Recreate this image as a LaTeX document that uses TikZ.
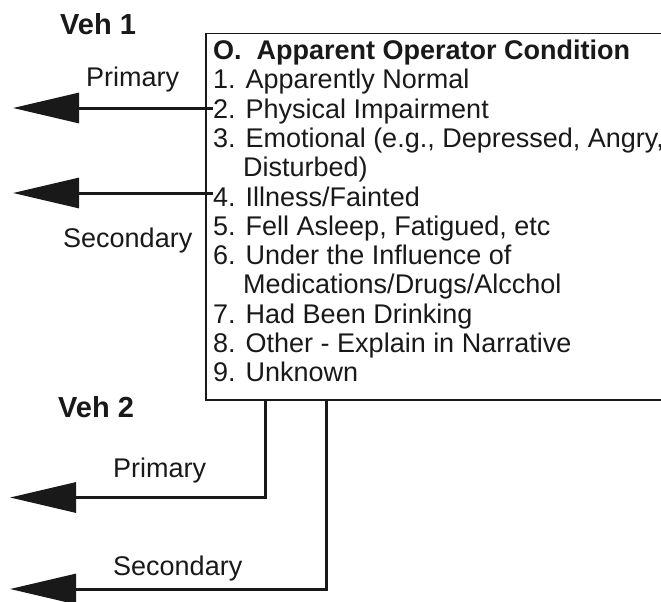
\documentclass[tikz,border=0pt]{standalone}
\usepackage{fontspec}
\setmainfont{Liberation Sans}
\usetikzlibrary{arrows.meta}
\definecolor{inkblack}{RGB}{25,25,25}

\begin{document}
\begin{tikzpicture}[x=1pt, y=-1pt,
    item/.style={anchor=base west, inner sep=0pt, text=inkblack, font=\fontsize{27}{29}\selectfont},
    vehlabel/.style={anchor=base west, inner sep=0pt, text=inkblack, font=\fontsize{29}{31}\selectfont\bfseries},
    bigarrow/.style={-{Triangle[length=66pt, width=30pt]}, line width=3pt, draw=inkblack}]
    \useasboundingbox (0,0) rectangle (661,602);
    \clip (0,0) rectangle (661,602);
    \node[draw=inkblack, line width=1.5pt, anchor=north west, minimum width=490pt, minimum height=366pt, inner sep=0pt] (box) at (205,33) {};
    \node[item] (title) at (213,59.5) {\bfseries O.\ \ Apparent Operator Condition};
    \node[item] (line1) at (213,88.8) {1. Apparently Normal};
    \node[item] (line2) at (213,118.1) {2. Physical Impairment};
    \node[item] (line3) at (213,147.4) {3. Emotional (e.g., Depressed, Angry,};
    \node[item] (line3b) at (243,176.7) {Disturbed)};
    \node[item] (line4) at (213,206) {4. Illness/Fainted};
    \node[item] (line5) at (213,235.3) {5. Fell Asleep, Fatigued, etc};
    \node[item] (line6) at (213,264.6) {6. Under the Influence of};
    \node[item] (line6b) at (243,293.9) {Medications/Drugs/Alcchol};
    \node[item] (line7) at (213,323.2) {7. Had Been Drinking};
    \node[item] (line8) at (213,352.5) {8. Other - Explain in Narrative};
    \node[item] (line9) at (213,381.8) {9. Unknown};
    \node[vehlabel] (veh1) at (60,35) {Veh 1};
    \node[item] (prim1) at (86,86) {Primary};
    \node[item] (sec1) at (63,247) {Secondary};
    \node[vehlabel] (veh2) at (58,417) {Veh 2};
    \node[item] (prim2) at (113,477) {Primary};
    \node[item] (sec2) at (113,575) {Secondary};
    \coordinate (tipA) at (13,108);
    \coordinate (tipB) at (13,193);
    \draw[bigarrow] (line2.west |- tipA) -- (tipA);
    \draw[bigarrow] (line4.west |- tipB) -- (tipB);
    \coordinate (bendA) at (265,497.5);
    \coordinate (tipC) at (10,497.5);
    \coordinate (bendB) at (326,589);
    \coordinate (tipD) at (10,589);
    \draw[bigarrow] (box.south -| bendA) -- (bendA) -- (tipC);
    \draw[bigarrow] (box.south -| bendB) -- (bendB) -- (tipD);
\end{tikzpicture}
\end{document}
